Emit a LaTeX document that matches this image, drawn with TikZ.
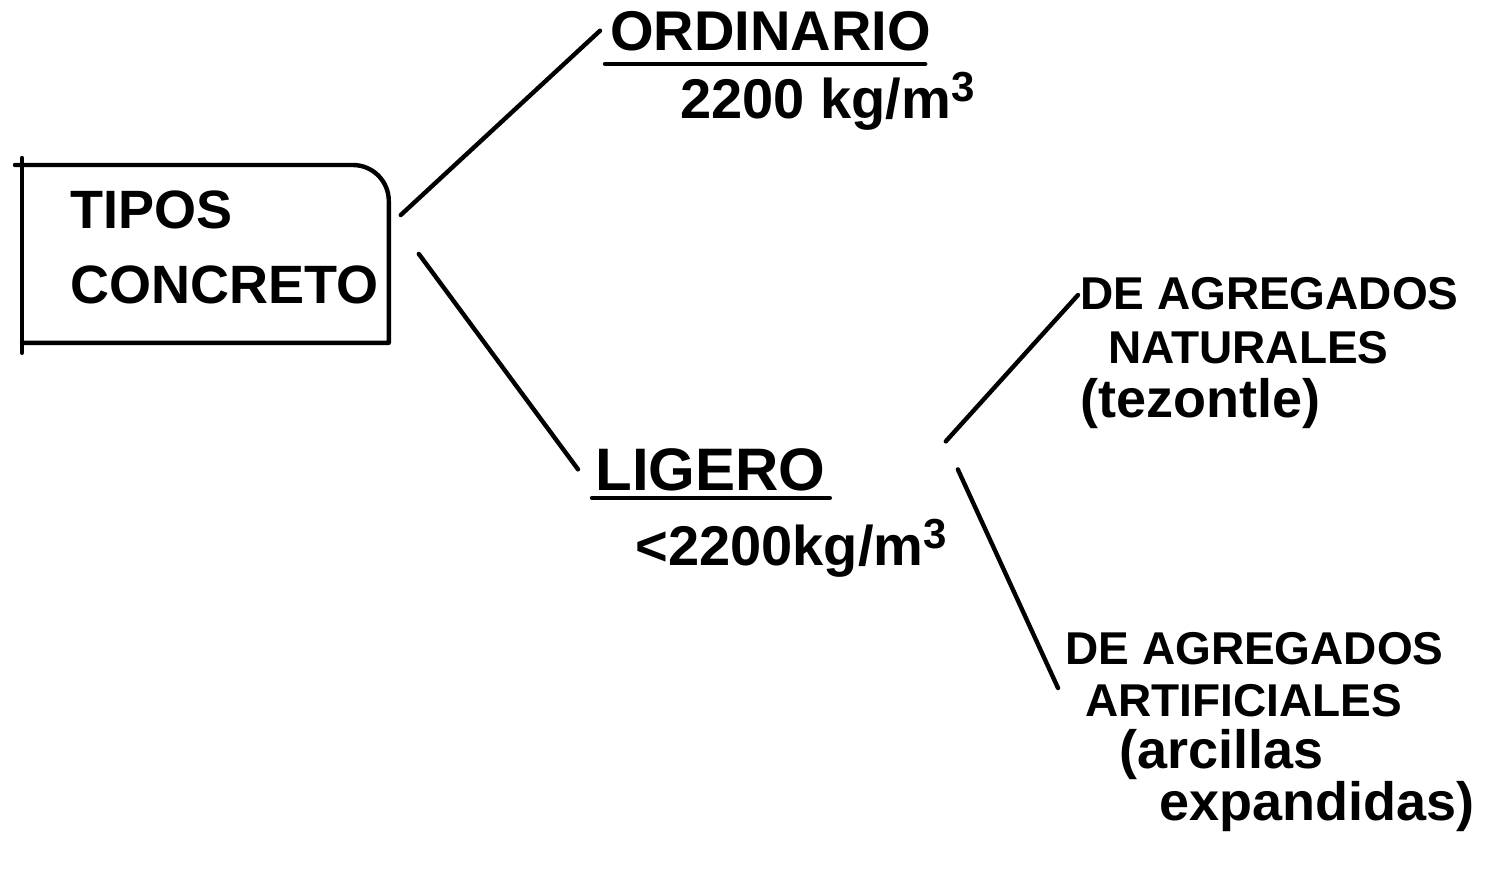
\documentclass[tikz,border=0pt]{standalone}
\usepackage{fontspec}
\setmainfont{Liberation Sans}
\newcommand{\cubed}{\raisebox{0.55ex}{\fontsize{21}{21}\selectfont 3}}
\begin{document}
\begin{tikzpicture}[x=0.5pt,y=-0.5pt,
  ink/.style={line width=2.2pt, line cap=round, line join=round},
  lbl/.style={inner sep=0pt, anchor=base west, font=\bfseries\fontsize{28}{32}\selectfont},
  sub/.style={inner sep=0pt, anchor=north west, align=left},
  framebox/.style={inner xsep=24pt, inner ysep=0pt, anchor=north west, minimum width=183pt,
    minimum height=88.5pt, text width=135pt, align=left, font=\bfseries\fontsize{27}{37.5}\selectfont}]
\useasboundingbox (0,0) rectangle (1488,868);

% main box
\node[framebox] (tipos) at (22,165) {TIPOS\\CONCRETO\rule[-7pt]{0pt}{0pt}};
\draw[ink] ([yshift=3.5pt]tipos.north west) -- ([yshift=-5pt]tipos.south west);
\draw[ink] ([xshift=-3.5pt]tipos.north west) -- ([xshift=-18pt]tipos.north east)
  to[out=0,in=90] ([yshift=-18pt]tipos.north east) -- (tipos.south east) -- (tipos.south west);

% ordinario
\node[lbl] (ord) at (610,50) {ORDINARIO};
\draw[ink] ([xshift=-2.5pt,yshift=-6.5pt]ord.south west) -- ([xshift=-3pt,yshift=-6.5pt]ord.south east);
\node[lbl] (ordd) at (680,118) {2200 kg/m\cubed};

% ligero
\node[lbl, font=\bfseries\fontsize{30}{34}\selectfont] (lig) at (595,490) {LIGERO};
\draw[ink] ([xshift=-1.5pt,yshift=-3.5pt]lig.south west) -- ([xshift=2pt,yshift=-3.5pt]lig.south east);
\node[lbl] (ligd) at (635,565) {<2200kg/m\cubed};

% sub types
\node[sub, font=\bfseries\fontsize{23}{27}\selectfont] (nat) at (1080,277)
  {DE AGREGADOS\\\hspace*{14pt}NATURALES\\{\fontsize{27}{27}\selectfont(tezontle)}};
\node[sub, font=\bfseries\fontsize{23}{26}\selectfont] (art) at (1065,632)
  {DE AGREGADOS\\\hspace*{10pt}ARTIFICIALES\\\hspace*{27pt}{\fontsize{27}{26}\selectfont(arcillas}\\\hspace*{47pt}{\fontsize{27}{26}\selectfont expandidas)}};

% connectors
\draw[ink] ([xshift=6pt,yshift=-25pt]tipos.north east) -- ([xshift=-5pt]ord.west);
\draw[ink] ([xshift=15pt]tipos.east) -- ([xshift=-8.5pt]lig.west);
\draw[ink] ([xshift=60pt,yshift=14pt]lig.east) -- ([xshift=-1pt,yshift=-9pt]nat.north west);
\draw[ink] ([xshift=66pt]lig.east) -- ([xshift=-3.5pt,yshift=-28pt]art.north west);
\end{tikzpicture}
\end{document}
